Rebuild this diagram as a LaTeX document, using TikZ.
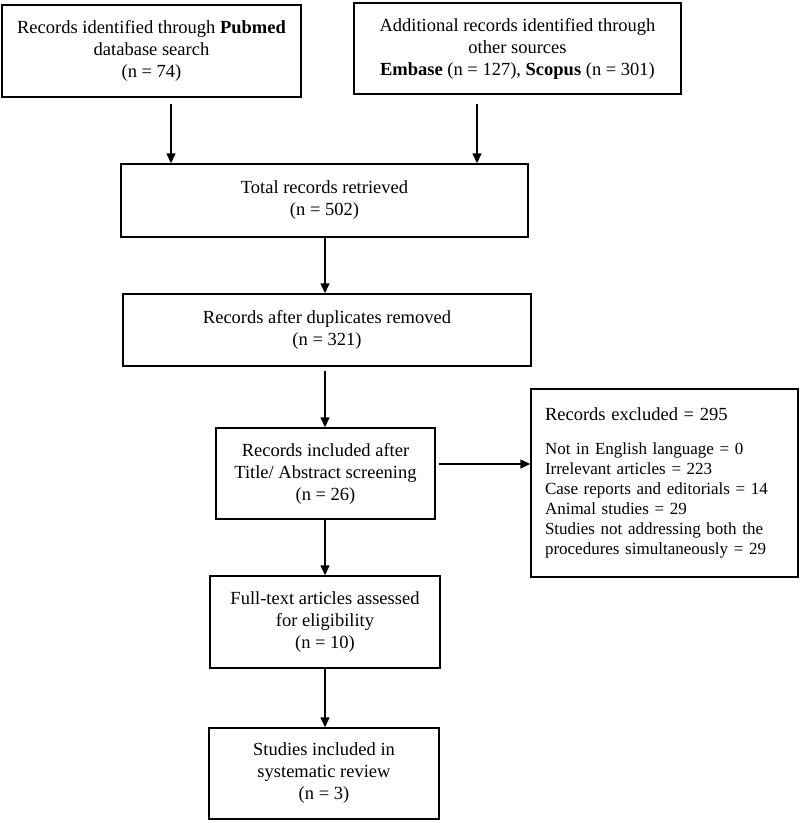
\documentclass[tikz,border=0pt]{standalone}
\usepackage{fontspec}
\setmainfont{Liberation Serif}
\usetikzlibrary{arrows.meta}
\begin{document}
\begin{tikzpicture}[x=1pt,y=-1pt,
  boxnode/.style={draw=black, line width=1.4pt, align=center, inner sep=0pt,
    font=\fontsize{18.5}{22}\selectfont},
  arr/.style={line width=1.4pt, -{Triangle[length=10pt,width=9pt]}}]
\useasboundingbox (0,0) rectangle (800,823);
\node[boxnode, minimum width=299pt, minimum height=92pt] (b1) at (151.5,51)
  {Records identified through \textbf{Pubmed}\\database search\\(n = 74)};
\node[boxnode, minimum width=327pt, minimum height=91pt] (b2) at (517.5,48.5)
  {Additional records identified through\\other sources\\\textbf{Embase} (n = 127), \textbf{Scopus} (n = 301)};
\node[boxnode, minimum width=407pt, minimum height=73pt] (b3) at (324.5,200.5)
  {Total records retrieved\\(n = 502)};
\node[boxnode, minimum width=408pt, minimum height=72pt] (b4) at (327,330)
  {Records after duplicates removed\\(n = 321)};
\node[boxnode, minimum width=219pt, minimum height=91pt] (b5) at (325.5,473.5)
  {Records included after\\Title/ Abstract screening\\(n = 26)};
\node[boxnode, minimum width=267pt, minimum height=188pt, align=left,
  text width=239pt, inner xsep=14pt, font=\fontsize{17}{20}\selectfont] (b6) at (664.5,483)
  {{\fontsize{18.5}{20}\selectfont Records excluded = 295}\\[14pt]
   Not in English language = 0\\
   Irrelevant articles = 223\\
   Case reports and editorials = 14\\
   Animal studies = 29\\
   Studies not addressing both the\\
   procedures simultaneously = 29};
\node[boxnode, minimum width=230pt, minimum height=92pt] (b7) at (325,622)
  {Full-text articles assessed\\for eligibility\\(n = 10)};
\node[boxnode, minimum width=230pt, minimum height=91pt] (b8) at (324,773.5)
  {Studies included in\\systematic review\\(n = 3)};
\coordinate (a1) at (171,0);
\coordinate (a2) at (477,0);
\coordinate (am) at (325,0);
\coordinate (ah) at (0,464);
\draw[arr] ([yshift=-6pt]b1.south -| a1) -- (b3.north -| a1);
\draw[arr] ([yshift=-9pt]b2.south -| a2) -- (b3.north -| a2);
\draw[arr] (b3.south -| am) -- (b4.north -| am);
\draw[arr] ([yshift=-4pt]b4.south -| am) -- (b5.north -| am);
\draw[arr] ([xshift=3pt]b5.east |- ah) -- (b6.west |- ah);
\draw[arr] (b5.south -| am) -- (b7.north -| am);
\draw[arr] (b7.south -| am) -- (b8.north -| am);
\end{tikzpicture}
\end{document}
